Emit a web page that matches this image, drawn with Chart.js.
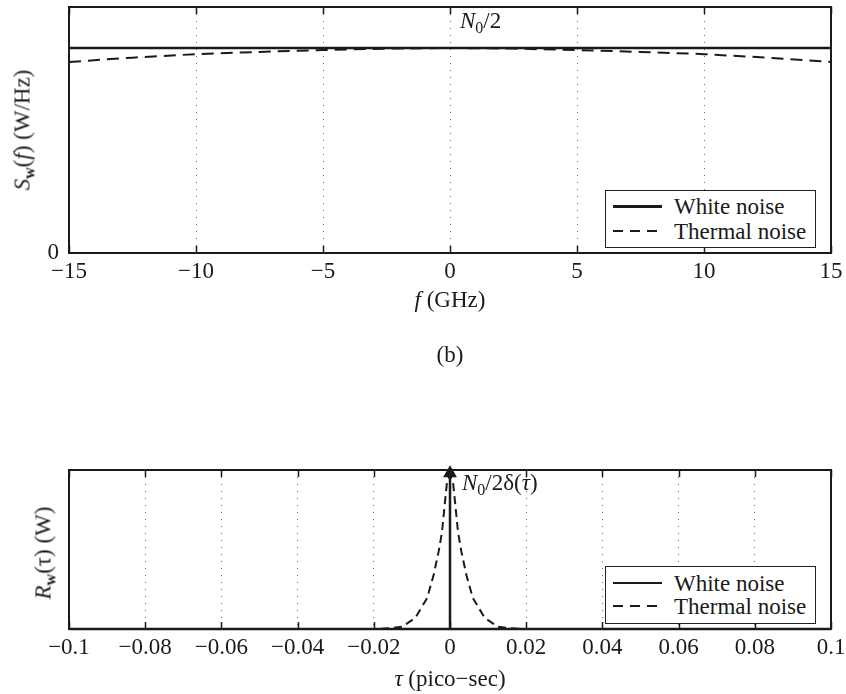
<!DOCTYPE html>
<html>
<head>
<meta charset="utf-8">
<script src="https://cdn.jsdelivr.net/npm/chart.js@4.4.1/dist/chart.umd.min.js"></script>
<style>
  html, body { margin:0; padding:0; background:#fff; }
  body { width:846px; height:694px; position:relative; overflow:hidden; font-family:'Liberation Serif', 'Times New Roman', serif; color:#1a1a1a; }
  canvas { position:absolute; left:0; }
  .txt { position:absolute; font-size:23px; line-height:23px; white-space:nowrap; }
  .it { font-style:italic; }
  .sub { font-size:16px; position:relative; top:5px; }
  .rot { transform:translate(-50%,-50%) rotate(-90deg); }
  .legend { position:absolute; background:#fff; border:1.5px solid #222; box-sizing:border-box; }
  .legend .sample { position:absolute; left:7px; width:49px; height:2px; background:#1a1a1a; }
  .legend .dash { background:repeating-linear-gradient(to right, #1a1a1a 0 10px, transparent 10px 17px); }
  .legend .lab { position:absolute; left:68px; font-size:23px; line-height:23px; white-space:nowrap; }
</style>
</head>
<body>
<canvas id="top" width="846" height="340" style="top:0px"></canvas>
<canvas id="bot" width="846" height="254" style="top:440px"></canvas>

<!-- annotations and axis titles -->
<div class="txt" style="left:460px; top:9px;"><span class="it">N</span><span class="sub">0</span>/2</div>
<div class="txt rot" style="left:23px; top:130px;"><span class="it">S</span><span class="sub" style="font-weight:bold">w</span>(<span class="it">f</span>) (W/Hz)</div>
<div class="txt" style="left:450px; top:288px; transform:translateX(-50%);"><span class="it">f</span> (GHz)</div>
<div class="txt" style="left:450px; top:343px; transform:translateX(-50%);">(b)</div>
<div class="txt" style="left:462px; top:471px;"><span class="it">N</span><span class="sub">0</span>/2δ(<span class="it">τ</span>)</div>
<div class="txt rot" style="left:44px; top:553px;"><span class="it">R</span><span class="sub" style="font-weight:bold">w</span>(τ) (W)</div>
<div class="txt" style="left:450px; top:667px; transform:translateX(-50%);"><span class="it">τ</span> (pico−sec)</div>

<!-- legends -->
<div class="legend" style="left:605px; top:190px; width:211px; height:58px;">
  <div class="sample" style="top:14px; height:2.5px;"></div><div class="lab" style="top:4px;">White noise</div>
  <div class="sample dash" style="top:39px;"></div><div class="lab" style="top:29px;">Thermal noise</div>
</div>
<div class="legend" style="left:605px; top:566px; width:211px; height:58px;">
  <div class="sample" style="top:15px;"></div><div class="lab" style="top:5px;">White noise</div>
  <div class="sample dash" style="top:38px;"></div><div class="lab" style="top:28px;">Thermal noise</div>
</div>

<script>
// ---------- data ----------
const fGHz        = [-15, -12.5, -10, -7.5, -5, -2.5, 0, 2.5, 5, 7.5, 10, 12.5, 15];
const whiteTop    = [1, 1, 1, 1, 1, 1, 1, 1, 1, 1, 1, 1, 1];
const thermalTop  = [0.932, 0.953, 0.970, 0.981, 0.990, 0.997, 1.0, 0.997, 0.990, 0.981, 0.970, 0.953, 0.932];
const xTicksTop       = [-15, -10, -5, 0, 5, 10, 15];
const xTickLabelsTop  = ['−15', '−10', '−5', '0', '5', '10', '15'];
const yTicksTop       = [0];
const yTickLabelsTop  = ['0'];

const tauPs         = [-0.1, -0.02, -0.016, -0.0126, -0.0091, -0.006, -0.0043, -0.003, -0.0021, -0.0014, -0.0008, 0,
                        0.0008, 0.0014, 0.0021, 0.003, 0.0043, 0.006, 0.0091, 0.0126, 0.016, 0.02, 0.1];
const thermalBottom = [0, 0, 0.004, 0.014, 0.07, 0.195, 0.34, 0.485, 0.61, 0.78, 0.92, 0.97,
                       0.92, 0.78, 0.61, 0.485, 0.34, 0.195, 0.07, 0.014, 0.004, 0, 0];
const whiteTau      = [-0.1, 0, 0, 0, 0.1];
const whiteBottom   = [0, 0, 0.98, 0, 0];
const xTicksBottom      = [-0.1, -0.08, -0.06, -0.04, -0.02, 0, 0.02, 0.04, 0.06, 0.08, 0.1];
const xTickLabelsBottom = ['−0.1', '−0.08', '−0.06', '−0.04', '−0.02', '0', '0.02', '0.04', '0.06', '0.08', '0.1'];

// ---------- helpers ----------
const pts = (xs, ys) => xs.map((x, i) => ({x: x, y: ys[i]}));

Chart.defaults.font.family = "'Liberation Serif', 'Times New Roman', serif";
Chart.defaults.font.size = 23;
Chart.defaults.color = '#1a1a1a';

const frameTicks = {
  id: 'frameTicks',
  afterDraw(chart) {
    const {ctx, chartArea: a} = chart;
    const x = chart.scales.x;
    ctx.save();
    ctx.strokeStyle = '#1a1a1a';
    ctx.lineWidth = 1.5;
    ctx.beginPath();
    x.ticks.forEach(t => {
      const px = Math.round(x.getPixelForValue(t.value)) + 0.5;
      ctx.moveTo(px, a.bottom); ctx.lineTo(px, a.bottom - 7);
      ctx.moveTo(px, a.top); ctx.lineTo(px, a.top + 7);
    });
    ctx.stroke();
    ctx.lineWidth = 2;
    ctx.strokeRect(a.left, a.top, a.right - a.left, a.bottom - a.top);
    ctx.restore();
  }
};

function makeChart(id, cfg) {
  const {datasets, xMin, xMax, xTicks, xLabels, yMin, yMax, yTicks, yLabels, padTop, xAxisH} = cfg;
  return new Chart(document.getElementById(id), {
    type: 'line',
    data: {datasets},
    options: {
      responsive: false,
      animation: false,
      devicePixelRatio: 1,
      layout: {padding: {left: 0, top: padTop, right: 15, bottom: 0}},
      plugins: {legend: {display: false}, tooltip: {enabled: false}},
      elements: {line: {tension: 0}, point: {radius: 0}},
      scales: {
        x: {
          type: 'linear', min: xMin, max: xMax,
          afterBuildTicks: ax => { ax.ticks = xTicks.map(v => ({value: v})); },
          afterFit: ax => { ax.height = xAxisH; ax.paddingLeft = 0; ax.paddingRight = 0; ax.paddingTop = 0; ax.paddingBottom = 0; },
          ticks: {autoSkip: false, maxRotation: 0, padding: 5, callback: (v, i) => xLabels[i]},
          grid: {color: '#666', lineWidth: 1, drawTicks: false},
          border: {display: false, dash: [1, 6]}
        },
        y: {
          type: 'linear', min: yMin, max: yMax,
          afterBuildTicks: ax => { ax.ticks = yTicks.map(v => ({value: v})); },
          afterFit: ax => { ax.width = 69; ax.paddingLeft = 0; ax.paddingRight = 0; ax.paddingTop = 0; ax.paddingBottom = 0; },
          ticks: {display: yTicks.length > 0, padding: 10, callback: (v, i) => yLabels[i]},
          grid: {display: false, drawTicks: false},
          border: {display: false}
        }
      }
    },
    plugins: [frameTicks]
  });
}

makeChart('top', {
  datasets: [
    {label: 'White noise', data: pts(fGHz, whiteTop), borderColor: '#1a1a1a', borderWidth: 2.4, pointRadius: 0},
    {label: 'Thermal noise', data: pts(fGHz, thermalTop), borderColor: '#1a1a1a', borderWidth: 2, borderDash: [12, 7], pointRadius: 0}
  ],
  xMin: -15, xMax: 15, xTicks: xTicksTop, xLabels: xTickLabelsTop,
  yMin: 0, yMax: 1.2, yTicks: yTicksTop, yLabels: yTickLabelsTop,
  padTop: 7, xAxisH: 340 - 253
});

makeChart('bot', {
  datasets: [
    {label: 'White noise', data: pts(whiteTau, whiteBottom), borderColor: '#1a1a1a', borderWidth: 2.5,
     pointRadius: [0, 0, 5.5, 0, 0], pointStyle: 'triangle', pointBackgroundColor: '#1a1a1a', pointBorderColor: '#1a1a1a', clip: false},
    {label: 'Thermal noise', data: pts(tauPs, thermalBottom), borderColor: '#1a1a1a', borderWidth: 2, borderDash: [8, 5], pointRadius: 0}
  ],
  xMin: -0.1, xMax: 0.1, xTicks: xTicksBottom, xLabels: xTickLabelsBottom,
  yMin: 0, yMax: 1, yTicks: [], yLabels: [],
  padTop: 30, xAxisH: 254 - 189
});
</script>
</body>
</html>
